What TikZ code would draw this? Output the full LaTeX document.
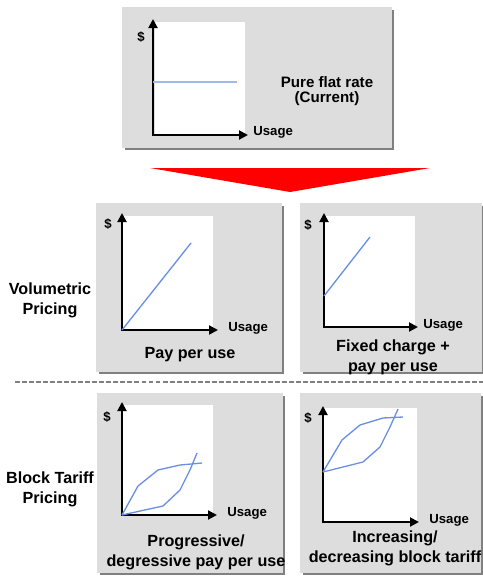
\documentclass[tikz,border=0pt]{standalone}
\usepackage{fontspec}
\setmainfont{Liberation Sans}
\usetikzlibrary{arrows.meta}
\usetikzlibrary{positioning}
\usetikzlibrary{shadows}
\usepackage{xcolor}
\definecolor{panelgrey}{HTML}{DDDDDD}
\definecolor{shadowgrey}{HTML}{808080}
\definecolor{tariffblue}{HTML}{6A8EE6}
\definecolor{flatblue}{HTML}{A3B6EA}
\definecolor{arrowred}{HTML}{FF0000}

\begin{document}
\begin{tikzpicture}[
        x=0.02cm, y=-0.02cm,
        panel/.style={rectangle, fill=panelgrey, inner sep=0pt,
          drop shadow={shadow xshift=0.05cm, shadow yshift=-0.05cm,
            fill=shadowgrey, opacity=1}},
        plotbg/.style={rectangle, fill=white, inner sep=0pt},
        axis/.style={line width=1.1pt, line join=miter,
          {Triangle[length=0.18cm, width=0.18cm]}-{Triangle[length=0.18cm, width=0.18cm]}},
        curve/.style={line width=0.75pt, draw=tariffblue},
        lbl/.style={font=\fontsize{9.2}{11.4}\selectfont\bfseries, align=center, inner sep=0pt},
        toplbl/.style={font=\fontsize{8.6}{8.4}\selectfont\bfseries, align=center, inner sep=0pt},
        usage/.style={font=\fontsize{7.5}{9}\selectfont\bfseries, inner sep=0pt},
        dollar/.style={font=\fontsize{7.5}{8}\selectfont\bfseries, inner sep=0pt},
        divider/.style={draw=shadowgrey, line width=0.9pt, dash pattern=on 2.8pt off 1.2pt},
      ]
      \useasboundingbox (0,0) rectangle (483,576);

      % === Top: pure flat rate ===
      \node[panel, minimum width=5.4cm, minimum height=2.82cm] (flat) at (257,77.5) {};
      \node[plotbg, minimum width=1.8cm, minimum height=2.26cm] (flatbg) at (200,78.5) {};
      \coordinate (o0) at (153,135);
      \coordinate (yt0) at (153,19);
      \coordinate (xe0) at (248,135);
      \draw[axis] (yt0) -- (o0) -- (xe0);
      \coordinate (f0a) at (153,82);
      \coordinate (f0b) at (237,82);
      \draw[curve, draw=flatblue, line width=1pt] (f0a) -- (f0b);
      \node[dollar] (d0) at (141,37) {\$};
      \node[usage, right=0.1cm of xe0, yshift=0.05cm] (u0) {Usage};
      \node[toplbl] (flatlbl) at (327,91) {Pure flat rate\\(Current)};

      % red arrow
      \coordinate (r1) at (150,168);
      \coordinate (r2) at (430,168);
      \coordinate (r3) at (290,192);
      \fill[arrowred] (r1) -- (r2) -- (r3) -- cycle;

      % === Volumetric pricing ===
      \node[lbl] (vol) at (50,300) {Volumetric\\Pricing};

      \node[panel, minimum width=3.72cm, minimum height=3.38cm] (ppu) at (189,287.5) {};
      \node[plotbg, minimum width=1.82cm, minimum height=2.28cm] (ppubg) at (167.5,273) {};
      \coordinate (o1) at (122,330);
      \coordinate (yt1) at (122,213);
      \coordinate (xe1) at (218,330);
      \draw[axis] (yt1) -- (o1) -- (xe1);
      \coordinate (l1) at (191,243);
      \draw[curve] (o1) -- (l1);
      \node[dollar] (d1) at (108,224) {\$};
      \node[usage, right=0.2cm of xe1, yshift=0.04cm] (u1) {Usage};
      \node[lbl] (ppulbl) at (190,355) {Pay per use};

      \node[panel, minimum width=3.64cm, minimum height=3.38cm] (fix) at (391,287.5) {};
      \node[plotbg, minimum width=1.82cm, minimum height=2.22cm] (fixbg) at (369.5,271.5) {};
      \coordinate (o2) at (324,327);
      \coordinate (yt2) at (324,213);
      \coordinate (xe2) at (418,327);
      \draw[axis] (yt2) -- (o2) -- (xe2);
      \coordinate (l2a) at (324,296);
      \coordinate (l2b) at (370,237);
      \draw[curve] (l2a) -- (l2b);
      \node[dollar] (d2) at (308,225) {\$};
      \node[usage, right=0.1cm of xe2, yshift=0.04cm] (u2) {Usage};
      \node[lbl] (fixlbl) at (393,357) {Fixed charge +\\pay per use};

      % divider
      \coordinate (dv1) at (15,382);
      \coordinate (dv2) at (483,382);
      \draw[divider] (dv1) -- (dv2);

      % === Block tariff pricing ===
      \node[lbl] (blk) at (50,489) {Block Tariff\\Pricing};

      \node[panel, minimum width=3.72cm, minimum height=3.6cm] (prog) at (190,483) {};
      \node[plotbg, minimum width=1.82cm, minimum height=2.2cm] (progbg) at (167.5,460) {};
      \coordinate (o3) at (122,515);
      \coordinate (yt3) at (122,402);
      \coordinate (xe3) at (217,515);
      \draw[axis] (yt3) -- (o3) -- (xe3);
      \draw[curve] (o3) -- (163,506) -- (180,490) -- (190,470) -- (197,453);
      \draw[curve] (o3) -- (138,486) -- (158,470) -- (180,465) -- (202,463);
      \node[dollar] (d3) at (107,417) {\$};
      \node[usage, right=0.2cm of xe3, yshift=0.04cm] (u3) {Usage};
      \node[lbl] (proglbl) at (196,552) {Progressive/\\degressive pay per use};

      \node[panel, minimum width=3.62cm, minimum height=3.6cm] (inc) at (390.5,483) {};
      \node[plotbg, minimum width=1.88cm, minimum height=2.28cm] (incbg) at (370,465) {};
      \coordinate (o4) at (323,522);
      \coordinate (yt4) at (323,406);
      \coordinate (xe4) at (419,522);
      \draw[axis] (yt4) -- (o4) -- (xe4);
      \coordinate (s4) at (323,472);
      \draw[curve] (s4) -- (363,462) -- (380,447) -- (390,427) -- (398,409);
      \draw[curve] (s4) -- (342,440) -- (360,425) -- (383,418) -- (403,417);
      \node[dollar] (d4) at (308,418) {\$};
      \node[usage, right=0.2cm of xe4, yshift=0.04cm] (u4) {Usage};
      \node[lbl] (inclbl) at (395,548) {Increasing/\\decreasing block tariff};

      \end{tikzpicture}
\end{document}
